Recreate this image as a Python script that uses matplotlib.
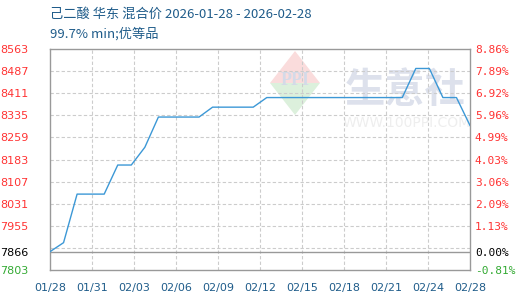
import matplotlib
matplotlib.use("Agg")
import matplotlib.pyplot as plt
from matplotlib.patches import Polygon
import numpy as np

# ---- data ----
start_date = "2026-01-28"
day_offsets = list(range(0, 32))
prices = [7866, 7897, 8064, 8064, 8064, 8164, 8164, 8225, 8329, 8329, 8329, 8329,
          8363, 8363, 8363, 8363, 8396, 8396, 8396, 8396, 8396, 8396, 8396, 8396,
          8396, 8396, 8396, 8496, 8496, 8396, 8396, 8300]
base_price = 7866
y_ticks = [7803, 7866, 7955, 8031, 8107, 8183, 8259, 8335, 8411, 8487, 8563]
y_tick_labels = ["7803", "7866", "7955", "8031", "8107", "8183", "8259", "8335", "8411", "8487", "8563"]
pct_labels = ["-0.81%", "0.00%", "1.13%", "2.09%", "3.06%", "4.03%", "4.99%", "5.96%", "6.92%", "7.89%", "8.86%"]
x_tick_labels = ["01/28", "01/31", "02/03", "02/06", "02/09", "02/12", "02/15", "02/18", "02/21", "02/24", "02/28"]
title = "己二酸 华东 混合价 2026-01-28 - 2026-02-28"
subtitle = "99.7% min;优等品"

RED = "#ff3333"
GREEN = "#33aa33"
BLUE_TXT = "#1f5c8a"
LINE = "#3c98d6"
FRAME = "#999999"
GRID = "#cccccc"

fig = plt.figure(figsize=(5.2, 3.0), dpi=100)
ax = fig.add_axes([50 / 520, 30 / 300, 420 / 520, 221 / 300])
ymin, ymax = y_ticks[0], y_ticks[-1]
xmax = day_offsets[-1]
ax.set_xlim(0, xmax)
ax.set_ylim(ymin, ymax)

# grid
step = y_ticks[3] - y_ticks[2]
for gy in np.arange(y_ticks[2] - step, ymax, step):
    ax.axhline(gy, color=GRID, lw=0.8, ls=(0, (3, 2)), zorder=1)
xt = np.linspace(0, xmax, len(x_tick_labels))
for gx in xt[1:-1]:
    ax.axvline(gx, color=GRID, lw=0.8, ls=(0, (3, 2)), zorder=1)
ax.axhline(base_price, color=FRAME, lw=1.0, zorder=2)

# watermark
ax.text(0.845, 0.81, "生意社", transform=ax.transAxes, fontsize=29, color="#dde1ec",
        family=["Noto Sans CJK SC"], ha="center", va="center", zorder=0, fontweight="bold")
ax.text(0.848, 0.665, "WWW.100PPI.COM", transform=ax.transAxes, fontsize=10, color="#eeeeee",
        ha="center", va="center", zorder=0, clip_on=True)
cx, cy, hw, hh = (295 - 50) / 420, (270 - 83) / 221, 25 / 420, 32 / 221
ax.add_patch(Polygon([[cx - hw, cy], [cx, cy + hh], [cx + hw, cy]], closed=True,
                     transform=ax.transAxes, color="#fadcdc", zorder=0, lw=0))
ax.add_patch(Polygon([[cx - hw, cy], [cx, cy - hh], [cx + hw, cy]], closed=True,
                     transform=ax.transAxes, color="#dcf0dc", zorder=0, lw=0))
ax.text(cx, cy + 0.01, "PPI", transform=ax.transAxes, fontsize=13, color="#d4dae8",
        ha="center", va="center", family="Liberation Serif", fontweight="bold", zorder=0)

ax.plot(day_offsets, prices, color=LINE, lw=1.0, zorder=3)

for s in ax.spines.values():
    s.set_color(FRAME)
    s.set_linewidth(1.0)

ax.set_xticks(xt)
ax.set_xticklabels(x_tick_labels, color=BLUE_TXT, fontsize=8)
ax.tick_params(axis="x", length=0, pad=9)
ax.set_yticks(y_ticks)
ax.set_yticklabels(y_tick_labels, fontsize=8)
ax.tick_params(axis="y", length=0, pad=15.5)

def col(v):
    return RED if v > base_price else (GREEN if v < base_price else "black")

for lab, v in zip(ax.get_yticklabels(), y_ticks):
    lab.set_color(col(v))

ax2 = ax.twinx()
ax2.set_ylim(ymin, ymax)
ax2.set_yticks(y_ticks)
ax2.set_yticklabels(pct_labels, fontsize=8, family="DejaVu Sans Mono")
ax2.tick_params(axis="y", length=0, pad=3.5)
for lab, v in zip(ax2.get_yticklabels(), y_ticks):
    lab.set_color(col(v))
for s in ax2.spines.values():
    s.set_visible(False)

fig.text(50 / 520, 1 - 14 / 300, title, color=BLUE_TXT, fontsize=9.5,
         family=["Noto Sans CJK SC", "DejaVu Sans"], ha="left", va="center")
fig.text(50 / 520, 1 - 34 / 300, subtitle, color=BLUE_TXT, fontsize=9.5,
         family=["Noto Sans CJK SC", "DejaVu Sans"], ha="left", va="center")

fig.savefig("out.png", dpi=100)
